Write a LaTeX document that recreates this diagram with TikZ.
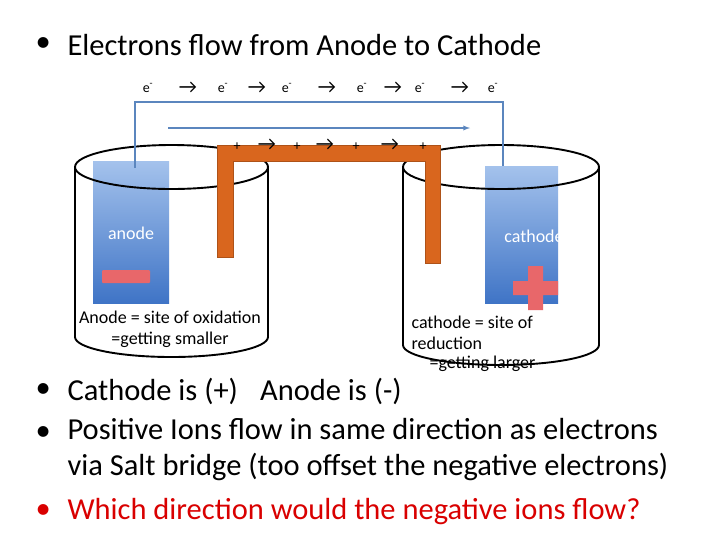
\documentclass[tikz,border=0pt]{standalone}
\usepackage{fontspec}
\setmainfont{Carlito}
\definecolor{steel}{HTML}{5B86BE}
\definecolor{etop}{HTML}{A4C2EC}
\definecolor{ebot}{HTML}{3F74C6}
\definecolor{brg}{HTML}{D9661E}
\definecolor{pk}{HTML}{E8676A}
\begin{document}
\begin{tikzpicture}[x=1pt,y=-1pt,
  beak/.style={line width=1.9pt,black},
  elec/.style={draw=none,top color=etop,bottom color=ebot},
  bridge/.style={fill=brg,draw=brg!80!black,line width=0.4pt},
  wire/.style={draw=steel,line width=1.3pt},
  big/.style={font=\fontsize{30.5}{36}\selectfont,anchor=west},
  sm/.style={font=\fontsize{18}{21}\selectfont},
  tiny/.style={font=\fontsize{14}{14}\selectfont},
  arr/.style={font=\fontsize{20}{20}\selectfont}]
\useasboundingbox (0,0) rectangle (720,539);
\fill[white] (0,0) rectangle (720,539);
% beakers back
\draw[beak] (75,167) -- (75,337) arc[start angle=180,end angle=0,x radius=96.5,y radius=20] -- (268,167);
\draw[beak] (403,167) -- (403,345) arc[start angle=180,end angle=0,x radius=98,y radius=20] -- (599,167);
% electrodes
\node[elec,minimum width=76,minimum height=142,inner sep=0,anchor=north west] (an) at (93,161) {};
\node[elec,minimum width=73,minimum height=137,inner sep=0,anchor=north west] (ca) at (485,166) {};
\node[text=white,sm] at (131,233) {anode};
\node[text=white,sm] at (534,236) {cathode};
\fill[pk,rounded corners=1] (102,270) rectangle (150,283);
\fill[pk] (528,266) rectangle (543,310) (513,281) rectangle (558,295);
% top ellipses
\draw[beak] (171.5,167) ellipse[x radius=96.5,y radius=22];
\draw[beak] (501,167) ellipse[x radius=98,y radius=22];
% salt bridge
\path[bridge] (217,145) -- (440,145) -- (440,263) -- (425,263) -- (425,161) -- (233,161) -- (233,257) -- (217,257) -- cycle;
% wire
\coordinate (w1) at (135,102); \coordinate (w2) at (503,102);
\draw[wire] (135,168) -- (w1) -- (w2) -- (503,166);
\draw[wire,-latex] (168,128) -- (470,128);
% e labels
\foreach \x in {148,223,287,362,420,493} \node[tiny] at (\x,88) {e\textsuperscript{-}};
\foreach \x in {188,257,327,393,460} \node[arr] at (\x,88) {→};
\foreach \x in {237,297,356,423} \node[tiny] at (\x,147) {+};
\foreach \x in {267,325,390} \node[arr] at (\x,145) {→};
% labels
\node[sm,align=center] (la) at (170,329) {Anode = site of oxidation\\=getting smaller};
\node[sm,anchor=west] (lc1) at (408,322) {cathode = site of};
\node[sm,anchor=west] (lc2) at (408,343) {reduction};
\node[sm,anchor=west] (lc3) at (426,364) {=getting larger};
% bullets
\node[big] at (32,45) {•};
\node[big] (b1) at (64,45) {Electrons flow from Anode to Cathode};
\node[big] at (32,391) {•};
\node[big] (b2) at (64,391) {Cathode is (+)\enspace\ Anode is (-)};
\node[big] at (32,434) {•};
\node[big,align=left,anchor=north west] (b3) at (64,415) {Positive Ions flow in same direction as electrons\\via Salt bridge (too offset the negative electrons)};
\node[big,red!85!black] at (32,512) {•};
\node[big,red!85!black] (b4) at (64,512) {Which direction would the negative ions flow?};
\end{tikzpicture}
\end{document}
